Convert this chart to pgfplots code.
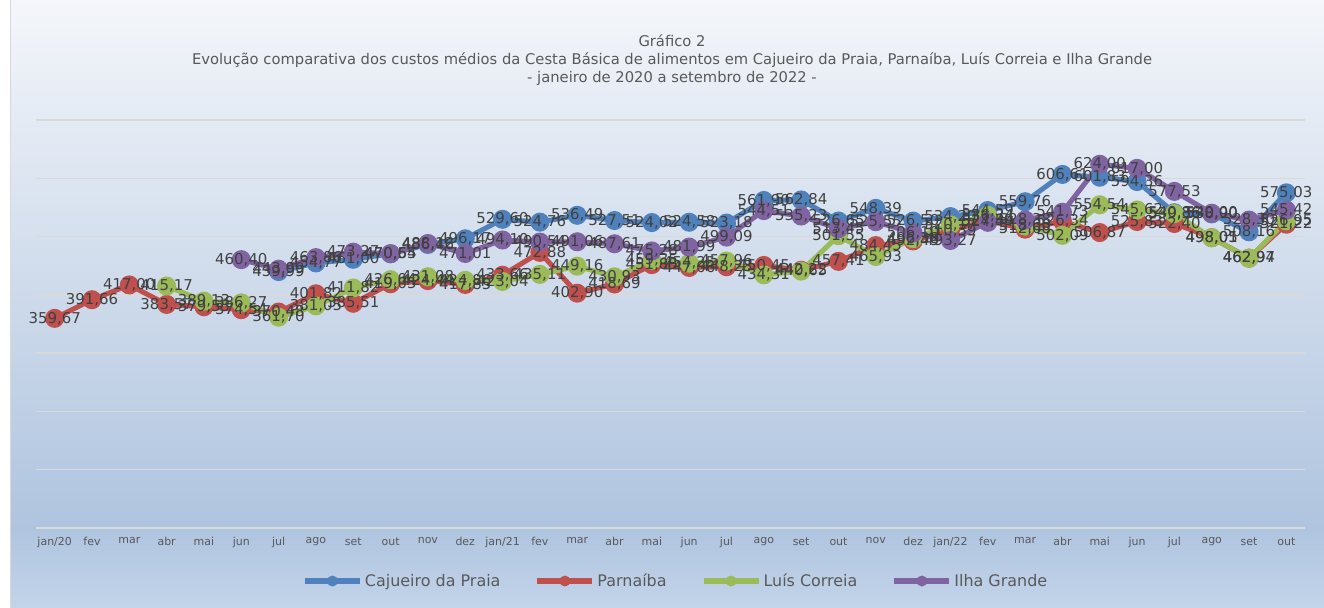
\documentclass[border=0pt]{standalone}
\usepackage{pgfplots}
\usepackage{pgfplotstable}
\pgfplotsset{compat=1.18}
\usepackage{fontspec}
\setmainfont{DejaVu Sans}

\definecolor{cajc}{HTML}{4F81BD}
\definecolor{parc}{HTML}{C0504D}
\definecolor{luic}{HTML}{9BBB59}
\definecolor{ilhc}{HTML}{8064A2}
\definecolor{gridc}{HTML}{D9D9D9}
\definecolor{labc}{HTML}{404040}
\definecolor{txtc}{HTML}{595959}
\definecolor{bgtop}{HTML}{F4F6FA}
\definecolor{bgmid}{HTML}{AFC4DF}
\definecolor{bgbot}{HTML}{C3D4EA}

% custo medio da cesta basica (R$), jan/20 a out/22
\pgfplotstableread{
x  caj    par    lui    ilh
0  nan    359.67 nan    nan
1  nan    391.66 nan    nan
2  nan    417.00 nan    nan
3  nan    383.57 415.17 nan
4  nan    379.55 389.13 nan
5  nan    374.54 386.27 460.40
6  439.99 370.48 361.70 443.99
7  454.77 401.82 381.05 463.86
8  461.00 385.51 411.82 473.27
9  470.54 419.05 426.04 470.65
10 486.46 424.44 431.08 488.12
11 496.17 417.85 424.86 471.01
12 529.60 433.66 423.04 494.10
13 524.76 472.88 435.11 490.54
14 536.49 402.90 449.16 491.06
15 527.51 418.69 430.93 487.61
16 524.02 451.85 459.35 475.28
17 524.58 447.06 454.25 481.99
18 523.18 448.23 457.96 499.09
19 561.90 450.45 434.31 544.51
20 562.84 442.22 440.65 535.23
21 526.65 457.41 501.55 513.45
22 548.39 484.45 465.93 525.55
23 526.50 492.49 496.38 506.10
24 534.20 510.39 520.17 493.27
25 544.59 527.59 536.34 524.44
26 559.76 512.68 518.00 528.38
27 606.61 526.34 502.09 541.73
28 601.83 506.87 554.54 624.00
29 594.36 525.83 545.62 617.00
30 540.86 522.40 539.36 577.53
31 538.90 498.05 498.01 540.00
32 508.16 462.97 462.94 528.30
33 575.03 521.22 526.95 545.42
}\datatable

\begin{document}
\begin{tikzpicture}[x=1bp,y=1bp]
  \useasboundingbox (0,0) rectangle (1324,608);
  \fill[white] (0,0) rectangle (1324,608);
  \shade[bottom color=bgbot, top color=bgmid] (10,0) rectangle (1324,80);
  \shade[bottom color=bgmid, top color=bgtop] (10,80) rectangle (1324,608);
  \draw[gridc, line width=1bp] (10,0) -- (10,608);

  \node[align=center, text=txtc, font=\fontsize{14.8}{18}\selectfont]
    at (672,548) {Gráfico 2\\Evolução comparativa dos custos médios da Cesta Básica de alimentos em Cajueiro da Praia, Parnaíba, Luís Correia e Ilha Grande\\- janeiro de 2020 a setembro de 2022 -};

  \begin{axis}[
    at={(36bp,80bp)}, anchor=south west,
    scale only axis, width=1269bp, height=408bp,
    xmin=-0.5, xmax=33.5, ymin=0, ymax=700,
    clip=false,
    axis line style={draw=none},
    major tick length=0pt,
    ytick={0,100,...,700}, yticklabels={},
    ymajorgrids, grid style={line width=1.5bp, draw=gridc},
    xtick={0,...,33},
    xticklabels={jan/20,fev,mar,abr,mai,jun,jul,ago,set,out,nov,dez,
      jan/21,fev,mar,abr,mai,jun,jul,ago,set,out,nov,dez,
      jan/22,fev,mar,abr,mai,jun,jul,ago,set,out},
    xticklabel style={font=\fontsize{11}{12}\selectfont, text=txtc, yshift=-6bp},
    legend style={at={(0.504,-0.13)}, anchor=center, draw=none, fill=none,
      font=\fontsize{16}{18}\selectfont, text=txtc,
      legend columns=4,
      /tikz/every even column/.append style={column sep=32bp}},
    legend image code/.code={
      \draw[#1, mark=none, line width=6bp] (0bp,0bp) -- (55bp,0bp);
      \fill[#1, mark=none, draw=none] (27.5bp,0bp) circle (5.5bp);
    },
    serie/.style={#1, line width=5bp, mark=*, mark size=7bp, mark options={fill=#1}},
  ]
    \addplot[serie=cajc] table[x=x, y=caj] {\datatable};
    \addlegendentry{Cajueiro da Praia}
    \addplot[serie=parc] table[x=x, y=par] {\datatable};
    \addlegendentry{Parnaíba}
    \addplot[serie=luic] table[x=x, y=lui] {\datatable};
    \addlegendentry{Luís Correia}
    \addplot[serie=ilhc] table[x=x, y=ilh] {\datatable};
    \addlegendentry{Ilha Grande}

    % rotulos de dados por cima de todas as linhas
    \pgfplotsset{
      rotulo/.style={draw=none, mark=none, forget plot,
        nodes near coords={\pgfmathprintnumber[fixed, fixed zerofill, precision=2,
          use comma, assume math mode=true]{\pgfplotspointmeta}},
        every node near coord/.append style={anchor=center, inner sep=0pt,
          text=labc, font=\fontsize{15}{16}\selectfont}}
    }
    \addplot[rotulo] table[x=x, y=caj] {\datatable};
    \addplot[rotulo] table[x=x, y=par] {\datatable};
    \addplot[rotulo] table[x=x, y=lui] {\datatable};
    \addplot[rotulo] table[x=x, y=ilh] {\datatable};
  \end{axis}
\end{tikzpicture}
\end{document}
